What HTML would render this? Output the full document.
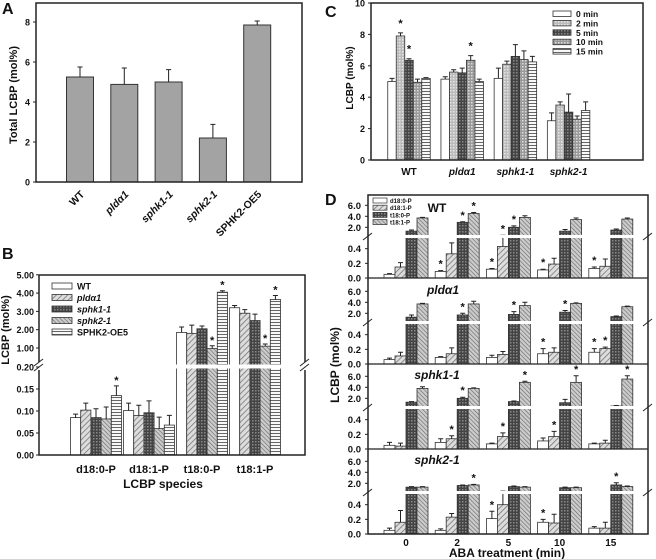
<!DOCTYPE html>
<html><head><meta charset="utf-8"><style>
html,body{margin:0;padding:0;background:#fff;}
svg{display:block;font-family:"Liberation Sans",sans-serif;font-weight:bold;}
</style></head><body>
<svg id="fig" width="656" height="559" viewBox="0 0 656 559" xmlns="http://www.w3.org/2000/svg">
<defs>
<pattern id="pDiag" width="4" height="4" patternUnits="userSpaceOnUse" patternTransform="rotate(45)"><rect width="4" height="4" fill="#ddd"/><line x1="0" y1="0" x2="0" y2="4" stroke="#777" stroke-width="1.6"/></pattern>
<pattern id="pDiag2" width="3" height="3" patternUnits="userSpaceOnUse" patternTransform="rotate(-45)"><rect width="3" height="3" fill="#ccc"/><line x1="0" y1="0" x2="0" y2="3" stroke="#666" stroke-width="1.2"/></pattern>
<pattern id="pDark" width="3" height="3" patternUnits="userSpaceOnUse"><rect width="3" height="3" fill="#444"/><rect width="1.5" height="1.5" fill="#888"/></pattern>
<pattern id="pHoriz" width="4" height="3" patternUnits="userSpaceOnUse"><rect width="4" height="3" fill="#fff"/><line x1="0" y1="1.5" x2="4" y2="1.5" stroke="#666" stroke-width="1.1"/></pattern>
<pattern id="pLight" width="3" height="3" patternUnits="userSpaceOnUse"><rect width="3" height="3" fill="#bbb"/><rect width="1.5" height="1.5" fill="#e6e6e6"/></pattern>
<pattern id="pMed" width="3" height="3" patternUnits="userSpaceOnUse"><rect width="3" height="3" fill="#999"/><rect width="1.5" height="1.5" fill="#ddd"/></pattern>
</defs>
</svg>
<script>
// ---- Panel A data ----
const catsA = ['WT','pldα1','sphk1-1','sphk2-1','SPHK2-OE5'];
const valsA = [5.25,4.88,5.0,2.2,7.85];
const errA = [0.5,0.82,0.62,0.68,0.2];
const ticksA = [0,2,4,6,8];
// ---- Panel B data ----
const catsB = ['d18:0-P','d18:1-P','t18:0-P','t18:1-P'];
const seriesB = ['WT','pldα1','sphk1-1','sphk2-1','SPHK2-OE5'];
const valsB_WT = [0.085,0.101,1.85,3.2];
const valsB_pld = [0.102,0.09,1.8,2.9];
const valsB_sphk1 = [0.085,0.096,2.05,2.5];
const valsB_sphk2 = [0.082,0.06,0.97,1.1];
const valsB_OE5 = [0.135,0.068,4.05,3.65];
const errB_WT = [0.008,0.017,0.3,0.12];
const errB_pld = [0.016,0.023,0.45,0.2];
const errB_sphk1 = [0.02,0.027,0.15,0.35];
const errB_sphk2 = [0.027,0.026,0.15,0.12];
const errB_OE5 = [0.022,0.022,0.08,0.22];
const starB = [[0,4],[2,3],[2,4],[3,3],[3,4]];
const ticksB_low = ['0.00','0.05','0.10','0.15','0.20'];
const ticksB_high = ['1.00','2.00','3.00','4.00','5.00'];
// ---- Panel C data ----
const catsC = ['WT','pldα1','sphk1-1','sphk2-1'];
const seriesC = ['0 min','2 min','5 min','10 min','15 min'];
const valsC_0 = [5.0,5.15,5.2,2.5];
const valsC_2 = [7.9,5.6,6.1,3.5];
const valsC_5 = [6.35,5.55,6.6,3.05];
const valsC_10 = [4.95,6.35,6.4,2.6];
const valsC_15 = [5.2,5.0,6.25,3.15];
const errC_0 = [0.2,0.15,0.65,0.5];
const errC_2 = [0.2,0.15,0.2,0.2];
const errC_5 = [0.1,0.3,0.75,1.15];
const errC_10 = [0.2,0.3,0.55,0.2];
const errC_15 = [0.05,0.15,0.35,0.55];
const starC = [[0,1],[0,2],[1,3]];
const ticksC = [0,2,4,6,8,10];
// ---- Panel D data ----
const timesD = ['0','2','5','10','15'];
const seriesD = ['d18:0-P','d18:1-P','t18:0-P','t18:1-P'];
const genoD = ['WT','pldα1','sphk1-1','sphk2-1'];
const valsD_WT = [[0.05,0.15,1.3,3.7],[0.09,0.33,2.9,4.5],[0.12,0.43,2.0,3.8],[0.11,0.19,1.3,3.4],[0.13,0.16,1.5,3.5]];
const valsD_pld = [[0.06,0.11,1.3,3.7],[0.09,0.14,1.7,3.7],[0.09,0.13,1.8,3.4],[0.14,0.16,2.2,3.8],[0.16,0.21,1.4,3.2]];
const valsD_sphk1 = [[0.05,0.04,1.3,3.8],[0.09,0.14,2.0,3.8],[0.07,0.17,1.4,4.9],[0.11,0.17,1.2,4.9],[0.07,0.08,0.6,5.5]];
const valsD_sphk2 = [[0.05,0.16,1.3,1.3],[0.05,0.23,1.6,1.7],[0.21,0.40,1.4,1.3],[0.16,0.15,1.2,1.2],[0.08,0.08,1.7,1.4]];
const errD_WT = [[0.01,0.06,0.2,0.1],[0.01,0.15,0.1,0.2],[0.01,0.12,0.25,0.3],[0.01,0.08,0.3,0.3],[0.02,0.1,0.2,0.2]];
const errD_pld = [[0.02,0.05,0.4,0.1],[0.01,0.08,0.3,0.5],[0.03,0.04,0.5,0.6],[0.07,0.06,0.3,0.1],[0.05,0.02,0.1,0.1]];
const errD_sphk1 = [[0.04,0.04,0.1,0.3],[0.05,0.04,0.2,0.1],[0.01,0.05,0.1,0.2],[0.04,0.07,0.6,1.2],[0.01,0.04,0.1,0.6]];
const errD_sphk2 = [[0.03,0.16,0.1,0.1],[0.02,0.05,0.1,0.1],[0.1,0.17,0.1,0.1],[0.04,0.12,0.1,0.1],[0.02,0.08,0.4,0.1]];
const starD_WT = [[1,0],[1,2],[1,3],[2,0],[2,1],[2,2],[3,0],[4,0]];
const starD_pld = [[1,2],[2,2],[3,0],[3,2],[4,0],[4,1]];
const starD_sphk1 = [[1,1],[1,2],[2,1],[2,3],[3,1],[3,3],[4,3]];
const starD_sphk2 = [[1,3],[2,0],[3,0],[4,2]];
const ticksD = ['0.0','0.2','0.4','2.0','4.0','6.0'];

const svg = document.getElementById('fig');
const NS = 'http://www.w3.org/2000/svg';
function mk(tag, a, parent){const e=document.createElementNS(NS,tag);for(const k in a)e.setAttribute(k,a[k]);(parent||svg).appendChild(e);return e;}
function txt(s,x,y,size,anchor,extra){const t=mk('text',Object.assign({x:x,y:y,'font-size':size,'text-anchor':anchor||'middle',fill:'#111'},extra||{}));t.textContent=s;return t;}
function errbar(x,y,ey,g){const l=mk('path',{d:`M${x},${y}V${ey}M${x-2.5},${ey}H${x+2.5}`,stroke:'#222','stroke-width':1,fill:'none'},g);return l;}
function star(x,y,g){const s=txt('*',x,y,11,'middle');g.appendChild(s);return s;}

// ===== Panel A =====
const yA = v => 182 - v*20;
const xA = i => 80 + i*44.3;
let t=txt('A',2,14,16,'start');


const gA = mk('g',{});


valsA.forEach((v,i)=>{
  const r=mk('rect',{x:xA(i)-13.5,y:yA(v),width:27,height:182-yA(v),fill:'#a3a3a3',stroke:'#333','stroke-width':1},gA);
  
  
  errbar(xA(i),yA(v),yA(v+errA[i]),gA);
  const lb=txt(catsA[i],xA(i)+5,195,10.5,'end',{transform:`rotate(-45 ${xA(i)+5} 195)`, 'font-style': (i>0&&i<4)?'italic':'normal'});
  
  
});
ticksA.forEach(v=>{mk('line',{x1:33,x2:36,y1:yA(v),y2:yA(v),stroke:'#222'},gA);txt(String(v),30,yA(v)+3.5,9,'end');});
mk('rect',{x:36,y:3,width:266,height:179,fill:'none',stroke:'#222','stroke-width':1.5},gA);
t=txt('Total LCBP (mol%)',17,95,11,'middle',{transform:'rotate(-90 17 95)'});



// ===== Panel B =====
t=txt('B',2,259,16,'start');


const yB = v => v<=0.2 ? 455 - v*440 : 348 - (v-1)*18.3;
const xB = i => 96 + i*53;
const fillsB = ['#fff','url(#pDiag)','url(#pDark)','url(#pDiag2)','url(#pHoriz)'];
const valsB = [valsB_WT,valsB_pld,valsB_sphk1,valsB_sphk2,valsB_OE5];
const errB = [errB_WT,errB_pld,errB_sphk1,errB_sphk2,errB_OE5];
const gB = mk('g',{});


catsB.forEach((c,i)=>{
  seriesB.forEach((s,j)=>{
    const v=valsB[j][i], x=xB(i)-25.5+j*10.2;
    const r=mk('rect',{x:x,y:yB(v),width:10.2,height:455-yB(v),fill:fillsB[j],stroke:'#333','stroke-width':0.8},gB);
    
    
    errbar(x+5.1,yB(v),yB(v+errB[j][i]),gB);
  });
  const lb=txt(c,xB(i),473,11,'middle');
  
  
});
starB.forEach(([i,j])=>{const v=valsB[j][i]+errB[j][i];star(xB(i)-25.5+j*10.2+5.1,yB(v)-2,gB);});
mk('rect',{x:40,y:364.5,width:265,height:4,fill:'#fff'},gB);
ticksB_low.forEach(s=>{const v=+s;mk('line',{x1:36,x2:39,y1:yB(v),y2:yB(v),stroke:'#222'},gB);txt(s,34,yB(v)+3.5,9,'end');});
ticksB_high.forEach(s=>{const v=+s;mk('line',{x1:36,x2:39,y1:yB(v),y2:yB(v),stroke:'#222'},gB);txt(s,34,yB(v)+3.5,9,'end');});
mk('path',{d:'M39,275V362M39,370V455H305V370M305,362V275H39',fill:'none',stroke:'#222','stroke-width':1.5},gB);
mk('path',{d:'M34,366l9,-7M34,371l9,-7M300,366l9,-7M300,371l9,-7',stroke:'#222','stroke-width':1},gB);
seriesB.forEach((s,j)=>{
  const y=283+j*11.5;
  mk('rect',{x:52,y:y,width:20,height:6,fill:fillsB[j],stroke:'#333','stroke-width':0.8},gB);
  const lt=txt(s,77,y+6.5,9,'start',{'font-style':(j>0&&j<4)?'italic':'normal'});
  
  
});
t=txt('LCBP (mol%)',9,330,11,'middle',{transform:'rotate(-90 9 330)'});


t=txt('LCBP species',163,488,12,'middle');



// ===== Panel C =====
t=txt('C',325,17,16,'start');


const yC = v => 160 - v*15.7;
const xC = i => 409 + i*53.2;
const fillsC = ['#fff','url(#pLight)','url(#pDark)','url(#pMed)','url(#pHoriz)'];
const valsC = [valsC_0,valsC_2,valsC_5,valsC_10,valsC_15];
const errC = [errC_0,errC_2,errC_5,errC_10,errC_15];
const gC = mk('g',{});


catsC.forEach((c,i)=>{
  seriesC.forEach((s,j)=>{
    const v=valsC[j][i], x=xC(i)-21.25+j*8.5;
    const r=mk('rect',{x:x,y:yC(v),width:8.5,height:160-yC(v),fill:fillsC[j],stroke:'#333','stroke-width':0.8},gC);
    
    
    errbar(x+4.25,yC(v),yC(v+errC[j][i]),gC);
  });
  const lb=txt(c,xC(i),175,10,'middle',{'font-style':i>0?'italic':'normal'});
  
  
});
starC.forEach(([i,j])=>{const v=valsC[j][i]+errC[j][i];star(xC(i)-21.25+j*8.5+4.25,yC(v)-6,gC);});
ticksC.forEach(v=>{mk('line',{x1:368,x2:371,y1:yC(v),y2:yC(v),stroke:'#222'},gC);txt(String(v),365,yC(v)+3.5,9,'end');});
mk('rect',{x:371,y:3,width:272,height:157,fill:'none',stroke:'#222','stroke-width':1.5},gC);
seriesC.forEach((s,j)=>{
  const y=11+j*9.4;
  mk('rect',{x:553,y:y,width:18,height:5.5,fill:fillsC[j],stroke:'#333','stroke-width':0.8},gC);
  const lt=txt(s,576,y+6,8.5,'start');
  
  
});
t=txt('LCBP (mol%)',353,78,10,'middle',{transform:'rotate(-90 353 78)'});



// ===== Panel D =====
t=txt('D',325,205,16,'start');


const bottomsD = [278,364,449,534];
const yD = (b,v) => v<=0.5 ? b - v*73.3 : b - 50.7 - (v-2)*5.5;
const xD = i => 406 + i*51.2;
const fillsD = ['#fff','url(#pDiag)','url(#pDark)','url(#pDiag2)'];
const valsD = [valsD_WT,valsD_pld,valsD_sphk1,valsD_sphk2];
const errD = [errD_WT,errD_pld,errD_sphk1,errD_sphk2];
const starD = [starD_WT,starD_pld,starD_sphk1,starD_sphk2];
const gD = mk('g',{});


genoD.forEach((g,k)=>{
  const b=bottomsD[k];
  timesD.forEach((tm,i)=>{
    seriesD.forEach((s,j)=>{
      const v=valsD[k][i][j], x=xD(i)-22+j*11;
      const r=mk('rect',{x:x,y:yD(b,v),width:11,height:b-yD(b,v),fill:fillsD[j],stroke:'#333','stroke-width':0.8},gD);
      
      
      errbar(x+5.5,yD(b,v),yD(b,v+errD[k][i][j]),gD);
    });
  });
  starD[k].forEach(([i,j])=>{const v=valsD[k][i][j]+errD[k][i][j];star(xD(i)-22+j*11+5.5,yD(b,v)-3,gD);});
  mk('rect',{x:369,y:b-43,width:278,height:3,fill:'#fff'},gD);
  ticksD.forEach(s=>{const v=+s;const y=v<=0.5?b-v*73.3:yD(b,v);mk('line',{x1:365,x2:368,y1:y,y2:y,stroke:'#222'},gD);txt(s,361,y+3.5,9.5,'end');});
  mk('path',{d:`M363,${b-38}l9,-7M643,${b-38}l9,-7`,stroke:'#222','stroke-width':1},gD);
  const gt=txt(g,k===1?443:437,k===0?b-66:b-70,12,'middle',{'font-style':k>0?'italic':'normal'});
  
  
  if(k<3) mk('line',{x1:368,x2:648,y1:b,y2:b,stroke:'#222','stroke-width':1.2},gD);
});
mk('rect',{x:368,y:195,width:280,height:339,fill:'none',stroke:'#222','stroke-width':1.5},gD);
timesD.forEach((tm,i)=>{const lb=txt(tm,xD(i),546,10,'middle');
  
  });
seriesD.forEach((s,j)=>{
  const y=198+j*7.2;
  mk('rect',{x:373,y:y,width:14,height:5,fill:fillsD[j],stroke:'#333','stroke-width':0.7},gD);
  const lt=txt(s,390,y+5,6,'start');
  
  
});
t=txt('LCBP (mol%)',339,365,12,'middle',{transform:'rotate(-90 339 365)'});


t=txt('ABA treatment (min)',507,557,12,'middle');


</script>
</body></html>
